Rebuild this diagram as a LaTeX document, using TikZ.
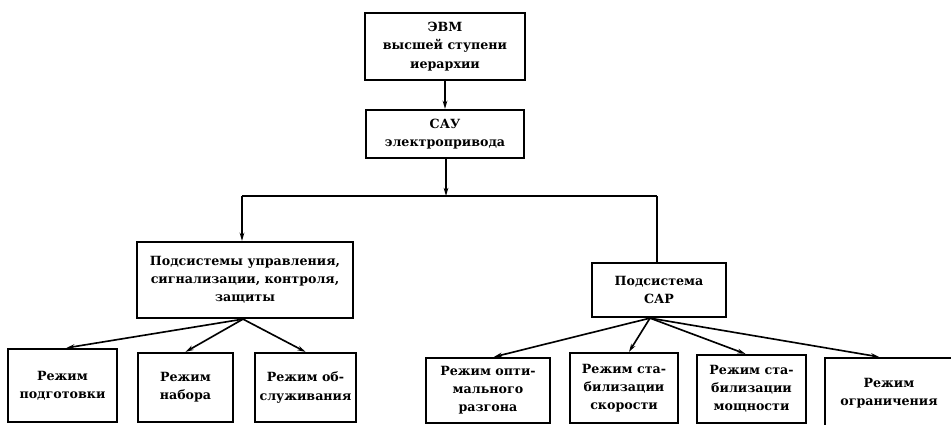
\documentclass[tikz,border=0pt]{standalone}
\usepackage{fontspec}
\setmainfont{DejaVu Serif}
\usetikzlibrary{arrows.meta, positioning}

\begin{document}
\begin{tikzpicture}[
    x=0.03cm, y=-0.03cm,
    % Box styling
    block/.style={
        draw,
        line width=1.9pt,
        align=center,
        inner sep=2pt,
        font=\bfseries\fontsize{10.8}{15.5}\selectfont
    },
    link/.style={line width=1.4pt},
    >={Stealth[length=7pt, width=4pt]}
]
    \clip (0,0) rectangle (951,425);

    % Upper levels
    \node[block, minimum width=4.8cm, minimum height=2.01cm] (evm) at (445,46.5) {ЭВМ\\высшей ступени\\иерархии};
    \node[block, minimum width=4.74cm, minimum height=1.44cm] (sau) at (445,134) {САУ\\электропривода};

    % Subsystems
    \node[block, minimum width=6.48cm, minimum height=2.28cm] (podsys) at (245,280) {Подсистемы управления,\\сигнализации, контроля,\\защиты};
    \node[block, minimum width=4.02cm, minimum height=1.62cm] (sar) at (659,290) {Подсистема\\САР};

    % Modes of the control subsystems
    \node[block, minimum width=3.27cm, minimum height=2.19cm] (prep) at (62.5,385.5) {Режим\\подготовки};
    \node[block, minimum width=2.85cm, minimum height=2.07cm] (nabor) at (185.5,387.5) {Режим\\набора};
    \node[block, minimum width=3.03cm, minimum height=2.07cm] (serv) at (305.5,387.5) {Режим об-\\служивания};

    % Modes of the SAR subsystem
    \node[block, minimum width=3.72cm, minimum height=1.95cm] (optim) at (488,390.5) {Режим опти-\\мального\\разгона};
    \node[block, minimum width=3.24cm, minimum height=2.1cm] (speed) at (624,388) {Режим ста-\\билизации\\скорости};
    \node[block, minimum width=3.27cm, minimum height=2.04cm] (power) at (751.5,389) {Режим ста-\\билизации\\мощности};
    \node[block, minimum width=3.84cm, minimum height=2.1cm] (limit) at (889,393) {Режим\\ограничения};

    % Bus between levels
    \coordinate (busL) at (242,196);
    \coordinate (busM) at (446,196);
    \coordinate (busR) at (657,196);

    % Connections
    \draw[link, ->] (evm) -- (sau);
    \draw[link, ->] (sau.south -| busM) -- (busM);
    \draw[link] (busL) -- (busR);
    \draw[link, ->] (busL) -- (busL |- podsys.north);
    \draw[link] (busR) -- (busR |- sar.north);

    \draw[link, ->] ([xshift=-0.06cm]podsys.south) -- ([xshift=0.12cm]prep.north);
    \draw[link, ->] ([xshift=-0.06cm]podsys.south) -- (nabor.north);
    \draw[link, ->] ([xshift=-0.06cm]podsys.south) -- (serv.north);

    \draw[link, ->] ([xshift=-0.27cm]sar.south) -- ([xshift=0.18cm]optim.north);
    \draw[link, ->] ([xshift=-0.27cm]sar.south) -- ([xshift=0.15cm]speed.north);
    \draw[link, ->] ([xshift=-0.27cm]sar.south) -- ([xshift=-0.18cm]power.north);
    \draw[link, ->] ([xshift=-0.27cm]sar.south) -- ([xshift=-0.3cm]limit.north);

\end{tikzpicture}
\end{document}
